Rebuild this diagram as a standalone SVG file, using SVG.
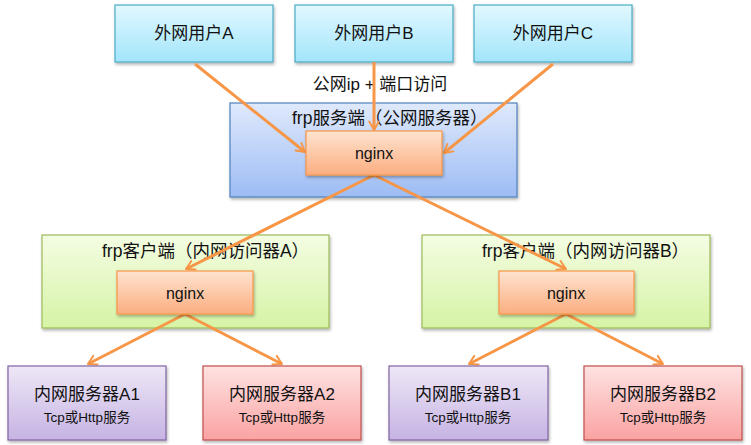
<svg xmlns="http://www.w3.org/2000/svg" width="751" height="445" viewBox="0 0 751 445">
<defs>
<linearGradient id="gCyan" x1="0" y1="0" x2="0" y2="1"><stop offset="0" stop-color="#e2f8ff"/><stop offset="1" stop-color="#a2e5fb"/></linearGradient>
<linearGradient id="gBlue" x1="0" y1="0" x2="0" y2="1"><stop offset="0" stop-color="#dfe9fc"/><stop offset="1" stop-color="#9dbcf4"/></linearGradient>
<linearGradient id="gOrange" x1="0" y1="0" x2="0" y2="1"><stop offset="0" stop-color="#fee3d0"/><stop offset="1" stop-color="#fbae80"/></linearGradient>
<linearGradient id="gGreen" x1="0" y1="0" x2="0" y2="1"><stop offset="0" stop-color="#f4fde3"/><stop offset="1" stop-color="#d6f3a5"/></linearGradient>
<linearGradient id="gPurple" x1="0" y1="0" x2="0" y2="1"><stop offset="0" stop-color="#eee7f7"/><stop offset="1" stop-color="#c6b3e3"/></linearGradient>
<linearGradient id="gRed" x1="0" y1="0" x2="0" y2="1"><stop offset="0" stop-color="#fee2e2"/><stop offset="1" stop-color="#faa3a2"/></linearGradient>
<filter id="sh" x="-10%" y="-10%" width="125%" height="130%"><feDropShadow dx="1" dy="2" stdDeviation="1.5" flood-color="#000" flood-opacity="0.3"/></filter>
<marker id="arr" viewBox="0 0 10 10" refX="8" refY="5" markerWidth="4" markerHeight="4" orient="auto" markerUnits="strokeWidth">
<path d="M1,1 L8,5 L1,9" fill="none" stroke="#f79646" stroke-width="1.6" stroke-linecap="round" stroke-linejoin="round"/>
</marker>
</defs>
<style>
text{font-family:"Liberation Sans","Noto Sans CJK SC",sans-serif;fill:#111;}
.t{font-size:17px;text-anchor:middle;}
.s{font-size:13.5px;text-anchor:middle;}
.n{font-size:16px;text-anchor:middle;}
.l{font-size:17.5px;}
.cy{fill:url(#gCyan);stroke:#4bacc6;stroke-width:1.2;filter:url(#sh);}
.bl{fill:url(#gBlue);stroke:#4f81bd;stroke-width:1.2;filter:url(#sh);}
.or{fill:url(#gOrange);stroke:#f79646;stroke-width:1.2;filter:url(#sh);}
.gr{fill:url(#gGreen);stroke:#9bbb59;stroke-width:1.2;filter:url(#sh);}
.pu{fill:url(#gPurple);stroke:#8064a2;stroke-width:1.2;filter:url(#sh);}
.rd{fill:url(#gRed);stroke:#c0504d;stroke-width:1.2;filter:url(#sh);}
.c{stroke:#f79646;stroke-width:3;fill:none;marker-end:url(#arr);}
</style>

<g id="userA"><rect class="cy" x="115" y="5" width="158" height="57"/><text class="t" x="194" y="39">外网用户A</text></g>
<g id="userB"><rect class="cy" x="295" y="5" width="158" height="57"/><text class="t" x="374" y="39">外网用户B</text></g>
<g id="userC"><rect class="cy" x="474" y="5" width="158" height="57"/><text class="t" x="553" y="39">外网用户C</text></g>

<g id="server"><rect class="bl" x="230" y="103" width="287" height="94"/><text class="l" x="292" y="124">frp服务端（公网服务器）</text></g>
<g id="clientA"><rect class="gr" x="42" y="235" width="287" height="93"/><text class="l" x="102" y="257">frp客户端（内网访问器A）</text></g>
<g id="clientB"><rect class="gr" x="422" y="235" width="288" height="93"/><text class="l" x="482" y="257">frp客户端（内网访问器B）</text></g>

<g id="label"><text class="t" x="380" y="90">公网ip + 端口访问</text></g>

<g id="connectors">
<line class="c" x1="195" y1="64" x2="305" y2="152"/>
<line class="c" x1="374" y1="62" x2="374" y2="130"/>
<line class="c" x1="553" y1="64" x2="444" y2="153"/>
<line class="c" x1="374" y1="175" x2="186" y2="269"/>
<line class="c" x1="374" y1="175" x2="566" y2="269"/>
<line class="c" x1="185" y1="314" x2="88" y2="364"/>
<line class="c" x1="185" y1="314" x2="282" y2="364"/>
<line class="c" x1="566" y1="314" x2="469" y2="364"/>
<line class="c" x1="566" y1="314" x2="663" y2="364"/>
</g>

<g id="nginxS"><rect class="or" x="306" y="131" width="136" height="44"/><text class="n" x="374" y="159">nginx</text></g>
<g id="nginxA"><rect class="or" x="117" y="271" width="136" height="43"/><text class="n" x="185" y="299">nginx</text></g>
<g id="nginxB"><rect class="or" x="499" y="271" width="135" height="43"/><text class="n" x="566" y="299">nginx</text></g>

<g id="A1"><rect class="pu" x="8" y="366" width="158" height="74"/><text class="t" x="87" y="400">内网服务器A1</text><text class="s" x="87" y="422">Tcp或Http服务</text></g>
<g id="A2"><rect class="rd" x="203" y="366" width="158" height="74"/><text class="t" x="282" y="400">内网服务器A2</text><text class="s" x="282" y="422">Tcp或Http服务</text></g>
<g id="B1"><rect class="pu" x="389" y="366" width="159" height="74"/><text class="t" x="468" y="400">内网服务器B1</text><text class="s" x="468" y="422">Tcp或Http服务</text></g>
<g id="B2"><rect class="rd" x="584" y="366" width="158" height="74"/><text class="t" x="663" y="400">内网服务器B2</text><text class="s" x="663" y="422">Tcp或Http服务</text></g>
</svg>
